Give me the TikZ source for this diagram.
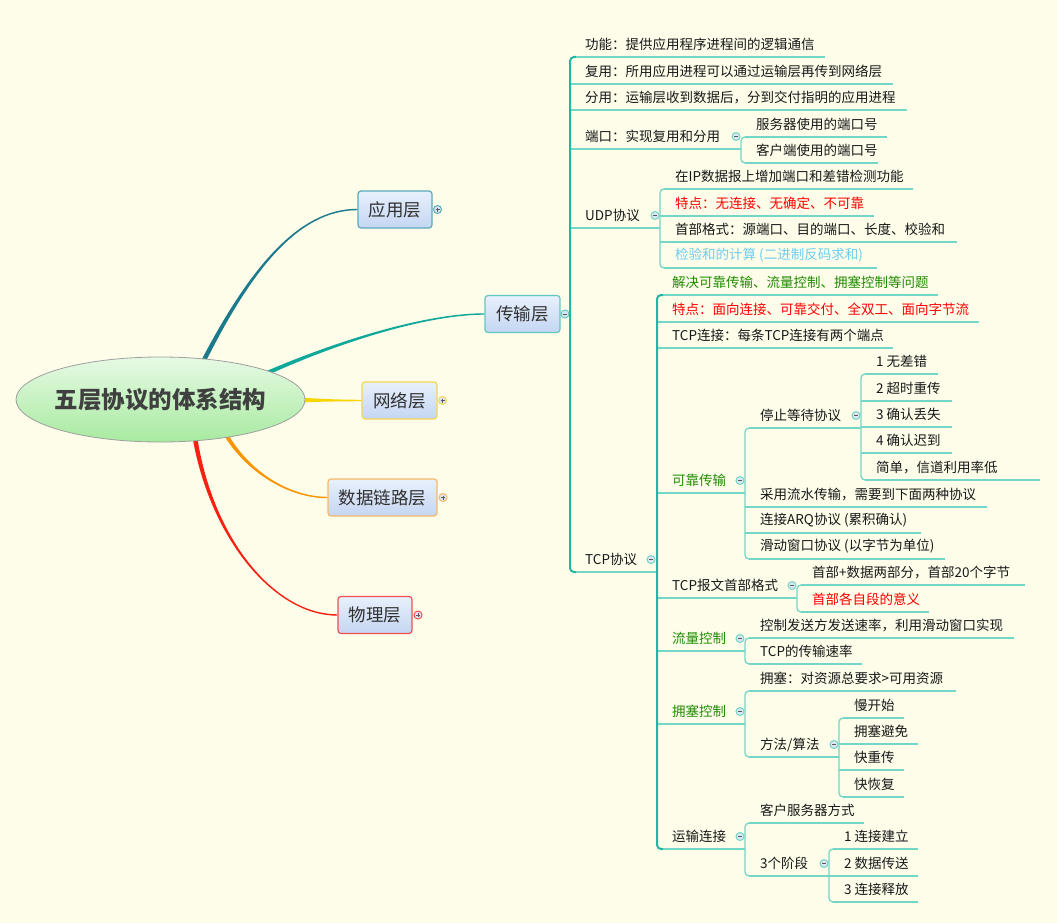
\documentclass[tikz,border=0pt]{standalone}
\usepackage{fontspec}
\setmainfont{Noto Sans CJK SC}
\usetikzlibrary{calc,backgrounds,shapes.geometric}
\definecolor{bg}{RGB}{254,253,234}
\definecolor{txt}{RGB}{24,24,24}
\definecolor{tred}{RGB}{255,0,0}
\definecolor{tgreen}{RGB}{30,140,0}
\definecolor{tblue}{RGB}{110,205,240}
\definecolor{ulc}{RGB}{115,214,198}
\definecolor{blc}{RGB}{32,184,160}
\definecolor{rootT}{RGB}{230,250,228}
\definecolor{rootB}{RGB}{168,234,160}
\definecolor{rootTxt}{RGB}{64,64,64}
\definecolor{boxT}{RGB}{232,240,252}
\definecolor{boxB}{RGB}{196,214,242}
\definecolor{boxTxt}{RGB}{48,48,48}
\definecolor{cApp}{RGB}{27,122,140}
\definecolor{bApp}{RGB}{90,170,187}
\definecolor{cTr}{RGB}{16,168,154}
\definecolor{bTr}{RGB}{96,200,192}
\definecolor{cNet}{RGB}{248,212,0}
\definecolor{bNet}{RGB}{244,216,80}
\definecolor{cDl}{RGB}{248,148,0}
\definecolor{bDl}{RGB}{248,184,104}
\definecolor{cPh}{RGB}{248,32,16}
\definecolor{bPh}{RGB}{240,80,80}
\definecolor{collFill}{RGB}{220,230,242}
\tikzset{
  topic/.style={anchor=west, inner sep=0pt, font=\fontsize{13.5}{16}\selectfont},
  ul/.style={draw=ulc, line width=1.3pt},
  bl/.style={draw=blc, line width=2pt},
  coll/.style={circle, fill=collFill, line width=1pt, minimum size=8pt, inner sep=0pt},
  lvl/.style={draw, rounded corners=3pt, line width=1.2pt, top color=boxT, bottom color=boxB,
    minimum height=37pt, inner xsep=0pt, font=\fontsize{17.5}{20}\selectfont, text=boxTxt},
}
\newcommand\mmtopic[6][txt]{%
  \node[topic,text=#1] (#2) at (#3+15,#4-12.5) {#6};
  \draw[ul] (#3,#4) -- (#5,#4);}
\newcommand\mmend[6][txt]{%
  \node[topic,text=#1] (#2) at (#3+15,#4-12.5) {#6};
  \draw[ul] (#3+4,#4) -- (#5,#4);}
\newcommand\mmbracket[4][ul]{%
  \draw[#1,rounded corners=4pt] (#2+6,#3) -- (#2,#3) -- (#2,#4) -- (#2+6,#4);}
\newcommand\mmcoll[4]{%
  \node[coll,draw=#4] (#1) at (#2,#3) {};
  \draw[gray!70!black,line width=0.8pt] ($(#1)+(-2,0)$) -- ($(#1)+(2,0)$);}
\newcommand\mmexp[4]{%
  \mmcoll{#1}{#2}{#3}{#4}%
  \draw[gray!70!black,line width=0.8pt] ($(#1)+(0,-2)$) -- ($(#1)+(0,2)$);}
\newcommand\mmtaper[6]{%
  \fill[#1] ($#2!#6!90:#3$) .. controls ($#3!1.3pt!-90:#2$) and ($#4!0.8pt!90:#5$) .. ($#5!0.7pt!-90:#4$)
     -- ($#5!0.7pt!90:#4$) .. controls ($#4!0.8pt!-90:#5$) and ($#3!1.3pt!90:#2$) .. ($#2!#6!-90:#3$) -- cycle;}
\begin{document}
\begin{tikzpicture}[x=1pt,y=-1pt]
\useasboundingbox (0,0) rectangle (1057,923);
\begin{pgfonlayer}{background}
\fill[bg] (0,0) rectangle (1057,923);
\end{pgfonlayer}

% root and first level
\node[ellipse, draw=gray!75, line width=0.8pt, minimum width=289pt, minimum height=85pt, inner sep=0pt,
  top color=rootT, bottom color=rootB] (root) at (160.5,399.5) {};
\node[text=rootTxt, inner sep=0pt, font=\fontsize{23.5}{28}\selectfont\bfseries] (rootlabel) at (root.center) {五层协议的体系结构};
\node[lvl, draw=bApp, minimum width=74pt] (app) at (395,209.5) {应用层};
\node[lvl, draw=bTr, minimum width=75pt] (tr) at (522.5,314) {传输层};
\node[lvl, draw=bNet, minimum width=75pt] (net) at (399.5,400.5) {网络层};
\node[lvl, draw=bDl, minimum width=109pt] (dl) at (382.5,497.5) {数据链路层};
\node[lvl, draw=bPh, minimum width=74pt] (ph) at (375,615) {物理层};

\begin{pgfonlayer}{background}
\mmtaper{cApp}{(203,362)}{(250,270)}{(298,209.5)}{(app.west)}{2.3pt}
\mmtaper{cTr}{(265,374)}{(325,347)}{(420,314)}{(tr.west)}{2.1pt}
\mmtaper{cNet}{(298,400)}{(320,400.3)}{(340,400.5)}{(net.west)}{2.6pt}
\mmtaper{cDl}{(225,433)}{(248,473)}{(290,497.5)}{(dl.west)}{2.1pt}
\mmtaper{cPh}{(195,438)}{(212,540)}{(275,615)}{(ph.west)}{2.3pt}
\end{pgfonlayer}

\mmexp{app-c}{437.5}{209.5}{bApp}
\mmexp{net-c}{442.5}{400.5}{bNet}
\mmexp{dl-c}{443}{497.5}{bDl}
\mmexp{ph-c}{418}{615}{bPh}

% transport layer
\draw[ul] (tr.east) -- (570,314);
\mmcoll{tr-c}{565}{314}{bTr}

\mmend{f1}{570}{57}{825}{功能：提供应用程序进程间的逻辑通信}
\mmtopic{f2}{570}{84}{893}{复用：所用应用进程可以通过运输层再传到网络层}
\mmtopic{f3}{570}{110}{907}{分用：运输层收到数据后，分到交付指明的应用进程}
\mmtopic{port}{570}{149}{741}{端口：实现复用和分用}
\mmtopic{udp}{570}{228}{660}{UDP协议}
\mmend{tcp}{570}{572}{657}{TCP协议}

% port
\mmend{p1}{741}{137}{887}{服务器使用的端口号}
\mmend{p2}{741}{163}{878}{客户端使用的端口号}
\mmbracket{741}{137}{163}
\mmcoll{port-c}{736}{136.5}{ulc}

% udp
\mmend{u1}{660}{189}{913}{在IP数据报上增加端口和差错检测功能}
\mmtopic[tred]{u2}{660}{216}{874}{特点：无连接、无确定、不可靠}
\mmtopic{u3}{660}{242}{957}{首部格式：源端口、目的端口、长度、校验和}
\mmend[tblue]{u4}{660}{268}{877}{检验和的计算 (二进制反码求和)}
\mmbracket{660}{189}{268}
\mmcoll{udp-c}{655}{215.5}{ulc}

% tcp
\mmend[tgreen]{t1}{657}{295}{938}{解决可靠传输、流量控制、拥塞控制等问题}
\mmtopic[tred]{t2}{657}{322}{979}{特点：面向连接、可靠交付、全双工、面向字节流}
\mmtopic{t3}{657}{348}{893}{TCP连接：每条TCP连接有两个端点}
\mmtopic[tgreen]{rel}{657}{493}{745}{可靠传输}
\mmtopic{hdr}{657}{598}{797}{TCP报文首部格式}
\mmtopic[tgreen]{flow}{657}{651}{745}{流量控制}
\mmtopic[tgreen]{cong}{657}{724}{745}{拥塞控制}
\mmend{conn}{657}{849}{745}{运输连接}

% reliable transfer
\mmend{sw}{745}{428}{861}{停止等待协议}
\mmtopic{r2}{745}{507}{987}{采用流水传输，需要到下面两种协议}
\mmtopic{r3}{745}{533}{921}{连接ARQ协议 (累积确认)}
\mmend{r4}{745}{559}{945}{滑动窗口协议 (以字节为单位)}
\mmbracket{745}{428}{559}
\mmcoll{rel-c}{740}{480.5}{ulc}

% stop and wait
\mmend{s1}{861}{374}{938}{1 无差错}
\mmtopic{s2}{861}{401}{952}{2 超时重传}
\mmtopic{s3}{861}{427}{952}{3 确认丢失}
\mmtopic{s4}{861}{453}{952}{4 确认迟到}
\mmend{s5}{861}{480}{1040}{简单，信道利用率低}
\mmbracket{861}{374}{480}
\mmcoll{sw-c}{856}{415.5}{ulc}

% header
\mmend{h1}{797}{585}{1025}{首部+数据两部分，首部20个字节}
\mmend[tred]{h2}{797}{612}{929}{首部各自段的意义}
\mmbracket{797}{585}{612}
\mmcoll{hdr-c}{792}{585.5}{ulc}

% flow control
\mmend{fl1}{745}{638}{1014}{控制发送方发送速率，利用滑动窗口实现}
\mmend{fl2}{745}{664}{862}{TCP的传输速率}
\mmbracket{745}{638}{664}
\mmcoll{flow-c}{740}{638.5}{ulc}

% congestion control
\mmend{c1}{745}{691}{956}{拥塞：对资源总要求>可用资源}
\mmend{alg}{745}{757}{839}{方法/算法}
\mmbracket{745}{691}{757}
\mmcoll{cong-c}{740}{711.5}{ulc}

\mmend{a1}{839}{718}{904}{慢开始}
\mmtopic{a2}{839}{744}{918}{拥塞避免}
\mmtopic{a3}{839}{770}{904}{快重传}
\mmend{a4}{839}{797}{904}{快恢复}
\mmbracket{839}{718}{797}
\mmcoll{alg-c}{834}{744.5}{ulc}

% connection
\mmend{k1}{745}{823}{864}{客户服务器方式}
\mmend{stg}{745}{876}{829}{3个阶段}
\mmbracket{745}{823}{876}
\mmcoll{conn-c}{740}{836.5}{ulc}

\mmend{g1}{829}{849}{918}{1 连接建立}
\mmtopic{g2}{829}{876}{918}{2 数据传送}
\mmend{g3}{829}{902}{918}{3 连接释放}
\mmbracket{829}{849}{902}
\mmcoll{stg-c}{824}{863.5}{ulc}

% main brackets on top
\mmbracket[bl]{657}{295}{849}
\mmcoll{tcp-c}{651}{559.5}{ulc}
\mmbracket[bl]{570}{57}{572}
\end{tikzpicture}
\end{document}
